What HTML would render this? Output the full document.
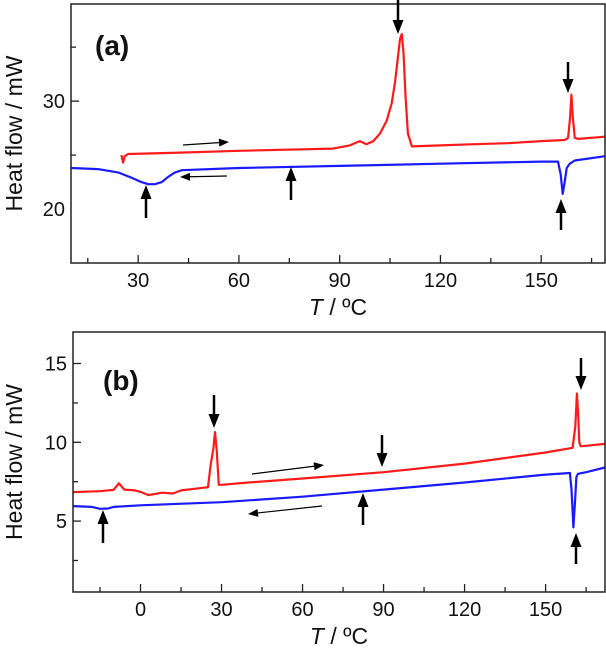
<!DOCTYPE html>
<html><head><meta charset="utf-8"><style>
body{margin:0;background:#fff}
svg{display:block;font-family:"Liberation Sans",Arial,sans-serif}
</style></head><body>
<svg id="c" width="606" height="650"></svg>
<script>
// Panel (a) data
const aRedX=[25,25.5,26,27,40,60,88,93,96,98,100,102,104,105.5,106.5,107.3,108,108.5,109,109.6,110.3,111.5,120,129,140,150,157,158,158.6,159,159.4,160,161,169];
const aRedY=[25.0,24.3,24.9,25.1,25.2,25.4,25.6,25.9,26.3,26.0,26.3,27.0,28.2,29.8,31.8,34.0,35.8,36.2,34.5,30.5,27.0,25.8,25.9,26.0,26.1,26.3,26.4,26.6,28.5,30.6,28.5,26.6,26.5,26.7];
const aBlueX=[10,18,24,28,31,33,35,37,39,41,43,60,90,120,150,155,155.8,156.4,157,157.6,158.5,160,169];
const aBlueY=[23.8,23.7,23.4,22.9,22.5,22.3,22.3,22.5,23.0,23.4,23.6,23.8,24.0,24.2,24.4,24.4,23.2,21.4,22.5,23.8,24.2,24.5,24.9];
const aXTicks=[30,60,90,120,150];
const aYTicks=[20,30];
// Panel (b) data
const bRedX=[-25,-15,-10,-8,-6,-2,0,3,8,12,15,20,25,26,27,27.6,28.2,29,30,40,60,90,120,150,160,161,161.6,162,162.5,163,163.5,172];
const bRedY=[6.84,6.9,6.98,7.4,7.0,6.95,6.85,6.65,6.8,6.75,6.95,7.05,7.15,8.6,9.6,10.65,9.5,7.3,7.3,7.45,7.7,8.1,8.65,9.35,9.65,11.0,13.1,12.0,10.0,9.75,9.75,9.9];
const bBlueX=[-25,-18,-15,-12,-10,0,30,60,90,120,150,159,159.6,160.3,160.8,161.4,162,165,172];
const bBlueY=[5.95,5.9,5.78,5.8,5.9,6.0,6.2,6.55,7.0,7.45,7.95,8.05,7.0,4.6,6.0,7.8,8.0,8.1,8.4];
const bXTicks=[0,30,60,90,120,150];
const bYTicks=[5,10,15];

const NS="http://www.w3.org/2000/svg";
const svg=document.getElementById('c');
function mk(t,a,p){const e=document.createElementNS(NS,t);for(const k in a)e.setAttribute(k,a[k]);(p||svg).appendChild(e);return e;}

function panel(P){
  const g=mk('g',{});
  
  
  const sx=v=>P.L+(v-P.x0)/(P.x1-P.x0)*(P.R-P.L);
  const sy=v=>P.B-(v-P.y0)/(P.y1-P.y0)*(P.B-P.T);
  for(let v=P.xm0;v<=P.x1;v+=P.xstep/2){
    const major=P.xt.includes(v);
    const t=mk('line',{x1:sx(v),x2:sx(v),y1:P.B,y2:P.B-(major?8:5),stroke:'#222','stroke-width':1.3},g);
    
    
  }
  P.xt.forEach(v=>{
    const t=mk('text',{x:sx(v),y:P.B+24,'text-anchor':'middle','font-size':20,fill:'#111'},g);t.textContent=v;
    
    
  });
  for(let v=P.ym0;v<=P.y1;v+=P.ystep/2){
    const major=P.yt.includes(v);
    const t=mk('line',{x1:P.L,x2:P.L+(major?8:5),y1:sy(v),y2:sy(v),stroke:'#222','stroke-width':1.3},g);
    
    
  }
  P.yt.forEach(v=>{
    const t=mk('text',{x:P.L-6,y:sy(v)+7,'text-anchor':'end','font-size':20,fill:'#111'},g);t.textContent=v;
    
    
  });
  const line=(xs,ys,c,n)=>{
    const p=mk('path',{d:xs.map((x,i)=>(i?'L':'M')+sx(x).toFixed(1)+','+sy(ys[i]).toFixed(1)).join(''),fill:'none',stroke:c,'stroke-width':2.2,'stroke-linejoin':'round'},g);
    
    
  };
  line(P.bx,P.by,'#1a1aff','cooling-curve');
  line(P.rx,P.ry,'#ff1a1a','heating-curve');
  const fr=mk('rect',{x:P.L,y:P.T,width:P.R-P.L,height:P.B-P.T,fill:'none',stroke:'#222','stroke-width':1.5},g);
  
  
  const lb=mk('text',{x:P.lx,y:P.ly,'font-size':28,'font-weight':'bold',fill:'#111'},g);lb.textContent=P.label;
  
  
  const xt=mk('text',{x:(P.L+P.R)/2,y:P.B+52,'text-anchor':'middle','font-size':23,fill:'#111'},g);
  xt.innerHTML='<tspan font-style="italic">T</tspan> / ºC';
  
  
  const yc=(P.T+P.B)/2;
  const yt=mk('text',{x:0,y:0,'text-anchor':'middle','font-size':23,fill:'#111',transform:`translate(22,${yc}) rotate(-90)`},g);
  yt.textContent='Heat flow / mW';
  
  
  P.arrows.forEach(a=>{
    const [x1,y1,x2,y2,w]=a;
    const ang=Math.atan2(y2-y1,x2-x1),hl=w?14:10,hw=w?5.5:4;
    const bx=x2-hl*Math.cos(ang),by=y2-hl*Math.sin(ang);
    const l=mk('line',{x1,y1,x2:bx,y2:by,stroke:'#000','stroke-width':w?2.5:1.2},g);
    
    
    const px=-Math.sin(ang)*hw,py=Math.cos(ang)*hw;
    const h=mk('polygon',{points:`${x2},${y2} ${bx+px},${by+py} ${bx-px},${by-py}`,fill:'#000'},g);
    
    
  });
}
panel({id:'a',L:71,R:605,T:4,B:263,x0:10,x1:169,y0:15,y1:39,xm0:15,xstep:30,ym0:25,ystep:10,
  xt:aXTicks,yt:aYTicks,rx:aRedX,ry:aRedY,bx:aBlueX,by:aBlueY,label:'(a)',lx:95,ly:55,
  arrows:[[398,0,398,34,1],[568,62,568,93,1],[146,218,146,185,1],[291,200,291,167,1],[561,230,561,199,1],
          [183,145,229,142,0],[227,176,180,177,0]]});
panel({id:'b',L:73,R:605,T:332,B:592,x0:-25,x1:172,y0:0.5,y1:17,xm0:-15,xstep:30,ym0:2.5,ystep:5,
  xt:bXTicks,yt:bYTicks,rx:bRedX,ry:bRedY,bx:bBlueX,by:bBlueY,label:'(b)',lx:103,ly:390,
  arrows:[[214,395,214,428,1],[581,358,581,390,1],[382,435,382,467,1],[103,543,103,510,1],[363,525,363,493,1],[576,564,576,533,1],
          [252,474,324,465,0],[322,506,248,514,0]]});
</script>
</body></html>
